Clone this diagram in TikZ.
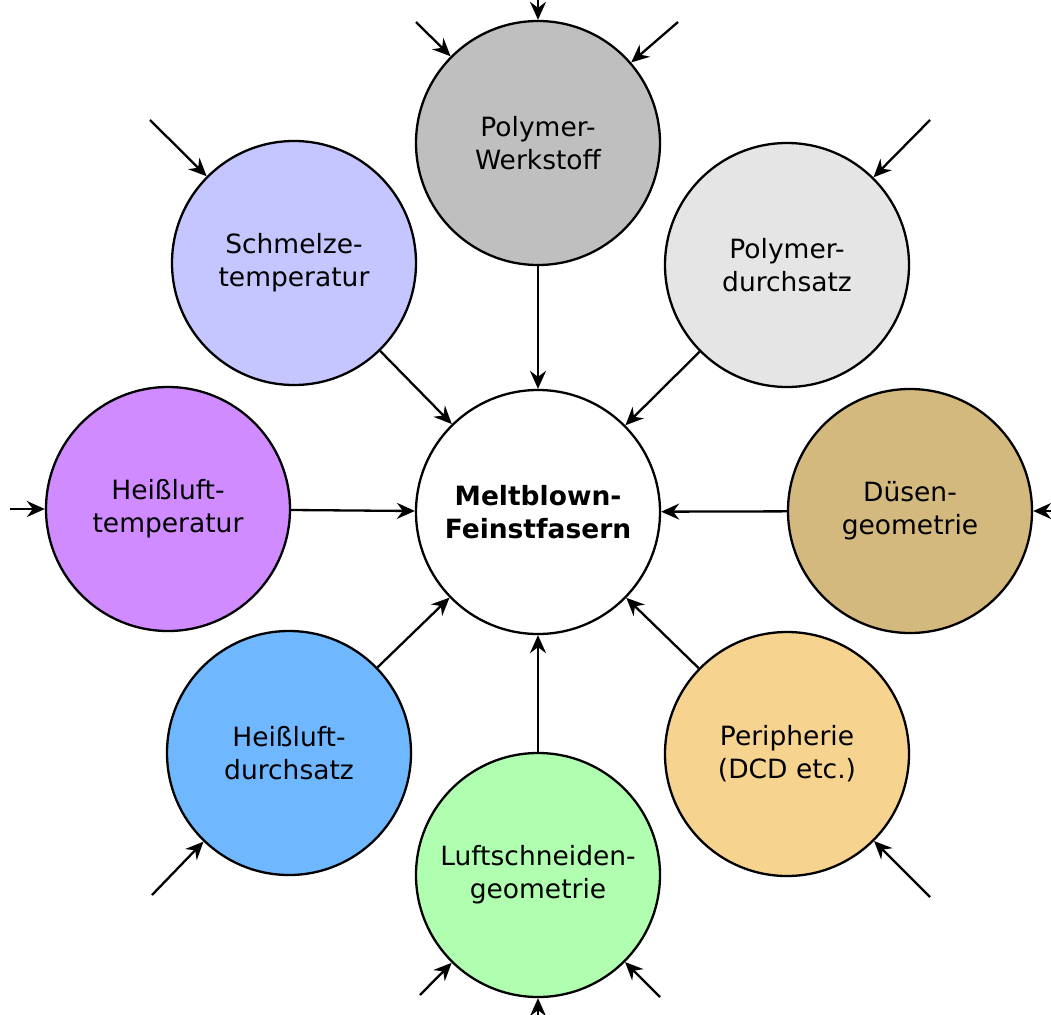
\documentclass[tikz,border=0pt]{standalone}
\usepackage{fontspec}
\setmainfont{DejaVu Sans}
\usetikzlibrary{arrows.meta}

\definecolor{pwgray}{HTML}{BFBFBF}
\definecolor{pdgray}{HTML}{E5E5E5}
\definecolor{dgbraun}{HTML}{D4B97F}
\definecolor{perorange}{HTML}{F6D38F}
\definecolor{lsgruen}{HTML}{B0FFB0}
\definecolor{hdblau}{HTML}{6FB7FF}
\definecolor{htlila}{HTML}{CF8BFF}
\definecolor{stblau}{HTML}{C5C5FF}

\tikzset{
  kreis/.style={circle, draw=black, line width=2.3pt, minimum size=244pt, inner sep=0pt,
    align=center, font=\fontsize{26.5}{33}\selectfont},
  pfeil/.style={line width=2.3pt, -{Stealth[length=18pt,width=16pt,inset=6pt]}}
}

\begin{document}
\begin{tikzpicture}[x=1pt,y=-1pt]
    \useasboundingbox (0,0) rectangle (1051,1014);

    % Einflussgroessen
    \node[kreis, fill=pwgray] (pw) at (538,143) {Polymer-\\Werkstoff};
    \node[kreis, fill=pdgray] (pd) at (787,265) {Polymer-\\durchsatz};
    \node[kreis, fill=dgbraun] (dg) at (910,511) {Düsen-\\geometrie};
    \node[kreis, fill=perorange] (per) at (787,754) {Peripherie\\(DCD etc.)};
    \node[kreis, fill=lsgruen] (ls) at (538,875) {Luftschneiden-\\geometrie};
    \node[kreis, fill=hdblau] (hd) at (289,753) {Heißluft-\\durchsatz};
    \node[kreis, fill=htlila] (ht) at (168,509) {Heißluft-\\temperatur};
    \node[kreis, fill=stblau] (st) at (294,263) {Schmelze-\\temperatur};

    % Zentrum
    \node[kreis, fill=white, font=\fontsize{26.5}{33}\selectfont\bfseries] (mb) at (538,512) {Meltblown-\\Feinstfasern};

    % Pfeile zum Zentrum
    \foreach \n in {pw,pd,dg,per,ls,hd,ht,st}
        \draw[pfeil] (\n) -- (mb);

    % Pfeile von aussen
    \coordinate (pw-a) at (416,22);
    \coordinate (pw-b) at (538,-10);
    \coordinate (pw-c) at (678,22);
    \coordinate (st-a) at (150,120);
    \coordinate (pd-a) at (930,120);
    \coordinate (dg-a) at (1085,511);
    \coordinate (ht-a) at (10,509);
    \coordinate (hd-a) at (152,895);
    \coordinate (per-a) at (930,897);
    \coordinate (ls-a) at (420,995);
    \coordinate (ls-b) at (538,1040);
    \coordinate (ls-c) at (660,997);

    \draw[pfeil] (pw-a) -- (pw);
    \draw[pfeil] (pw-b) -- (pw);
    \draw[pfeil] (pw-c) -- (pw);
    \draw[pfeil] (st-a) -- (st);
    \draw[pfeil] (pd-a) -- (pd);
    \draw[pfeil] (dg-a) -- (dg);
    \draw[pfeil] (ht-a) -- (ht);
    \draw[pfeil] (hd-a) -- (hd);
    \draw[pfeil] (per-a) -- (per);
    \draw[pfeil] (ls-a) -- (ls);
    \draw[pfeil] (ls-b) -- (ls);
    \draw[pfeil] (ls-c) -- (ls);
\end{tikzpicture}
\end{document}
